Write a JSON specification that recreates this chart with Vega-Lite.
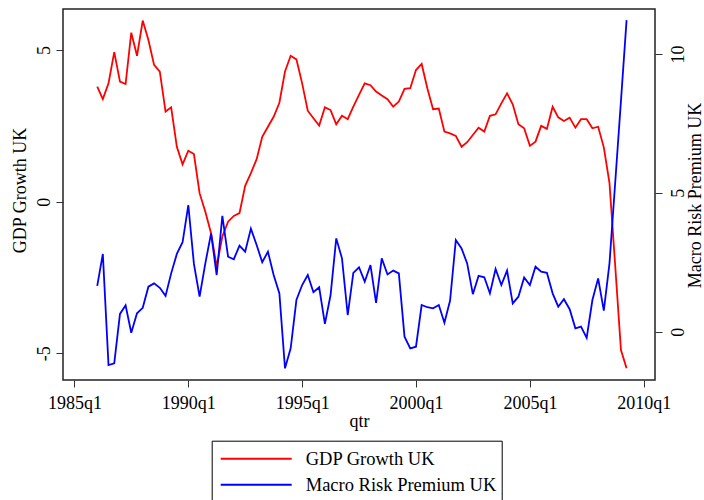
{
  "$schema": "https://vega.github.io/schema/vega-lite/v6.json",
  "width": 592,
  "height": 371,
  "autosize": {"type": "none"},
  "padding": {"left": 63, "top": 9, "right": 49, "bottom": 120},
  "background": "white",
  "data": {
    "values": [
      {"qtr": "1986-01-01", "gdp": 3.79, "mrp": 1.65},
      {"qtr": "1986-04-01", "gdp": 3.38, "mrp": 2.80},
      {"qtr": "1986-07-01", "gdp": 3.90, "mrp": -1.20},
      {"qtr": "1986-10-01", "gdp": 4.93, "mrp": -1.14},
      {"qtr": "1987-01-01", "gdp": 3.96, "mrp": 0.64},
      {"qtr": "1987-04-01", "gdp": 3.88, "mrp": 0.95},
      {"qtr": "1987-07-01", "gdp": 5.57, "mrp": -0.04},
      {"qtr": "1987-10-01", "gdp": 4.81, "mrp": 0.66},
      {"qtr": "1988-01-01", "gdp": 5.97, "mrp": 0.86},
      {"qtr": "1988-04-01", "gdp": 5.33, "mrp": 1.62},
      {"qtr": "1988-07-01", "gdp": 4.51, "mrp": 1.74},
      {"qtr": "1988-10-01", "gdp": 4.29, "mrp": 1.58},
      {"qtr": "1989-01-01", "gdp": 2.97, "mrp": 1.29},
      {"qtr": "1989-04-01", "gdp": 3.11, "mrp": 2.10},
      {"qtr": "1989-07-01", "gdp": 1.81, "mrp": 2.80},
      {"qtr": "1989-10-01", "gdp": 1.23, "mrp": 3.22},
      {"qtr": "1990-01-01", "gdp": 1.68, "mrp": 4.56},
      {"qtr": "1990-04-01", "gdp": 1.57, "mrp": 2.44},
      {"qtr": "1990-07-01", "gdp": 0.28, "mrp": 1.26},
      {"qtr": "1990-10-01", "gdp": -0.33, "mrp": 2.46},
      {"qtr": "1991-01-01", "gdp": -1.04, "mrp": 3.54},
      {"qtr": "1991-04-01", "gdp": -2.14, "mrp": 2.04},
      {"qtr": "1991-07-01", "gdp": -1.15, "mrp": 4.17},
      {"qtr": "1991-10-01", "gdp": -0.66, "mrp": 2.70},
      {"qtr": "1992-01-01", "gdp": -0.47, "mrp": 2.61},
      {"qtr": "1992-04-01", "gdp": -0.38, "mrp": 3.10},
      {"qtr": "1992-07-01", "gdp": 0.52, "mrp": 2.88},
      {"qtr": "1992-10-01", "gdp": 0.94, "mrp": 3.71},
      {"qtr": "1993-01-01", "gdp": 1.40, "mrp": 3.12},
      {"qtr": "1993-04-01", "gdp": 2.14, "mrp": 2.50},
      {"qtr": "1993-07-01", "gdp": 2.47, "mrp": 2.88},
      {"qtr": "1993-10-01", "gdp": 2.80, "mrp": 2.04},
      {"qtr": "1994-01-01", "gdp": 3.26, "mrp": 1.38},
      {"qtr": "1994-04-01", "gdp": 4.29, "mrp": -1.32},
      {"qtr": "1994-07-01", "gdp": 4.81, "mrp": -0.60},
      {"qtr": "1994-10-01", "gdp": 4.69, "mrp": 1.14},
      {"qtr": "1995-01-01", "gdp": 3.90, "mrp": 1.68},
      {"qtr": "1995-04-01", "gdp": 3.00, "mrp": 2.04},
      {"qtr": "1995-07-01", "gdp": 2.75, "mrp": 1.42},
      {"qtr": "1995-10-01", "gdp": 2.51, "mrp": 1.60},
      {"qtr": "1996-01-01", "gdp": 3.11, "mrp": 0.28},
      {"qtr": "1996-04-01", "gdp": 3.02, "mrp": 1.32},
      {"qtr": "1996-07-01", "gdp": 2.55, "mrp": 3.36},
      {"qtr": "1996-10-01", "gdp": 2.83, "mrp": 2.64},
      {"qtr": "1997-01-01", "gdp": 2.72, "mrp": 0.60},
      {"qtr": "1997-04-01", "gdp": 3.13, "mrp": 2.12},
      {"qtr": "1997-07-01", "gdp": 3.52, "mrp": 2.32},
      {"qtr": "1997-10-01", "gdp": 3.90, "mrp": 1.80},
      {"qtr": "1998-01-01", "gdp": 3.84, "mrp": 2.40},
      {"qtr": "1998-04-01", "gdp": 3.63, "mrp": 1.04},
      {"qtr": "1998-07-01", "gdp": 3.50, "mrp": 2.64},
      {"qtr": "1998-10-01", "gdp": 3.38, "mrp": 2.06},
      {"qtr": "1999-01-01", "gdp": 3.13, "mrp": 2.20},
      {"qtr": "1999-04-01", "gdp": 3.30, "mrp": 2.10},
      {"qtr": "1999-07-01", "gdp": 3.72, "mrp": -0.18},
      {"qtr": "1999-10-01", "gdp": 3.74, "mrp": -0.60},
      {"qtr": "2000-01-01", "gdp": 4.34, "mrp": -0.54},
      {"qtr": "2000-04-01", "gdp": 4.54, "mrp": 0.96},
      {"qtr": "2000-07-01", "gdp": 3.74, "mrp": 0.88},
      {"qtr": "2000-10-01", "gdp": 3.05, "mrp": 0.84},
      {"qtr": "2001-01-01", "gdp": 3.07, "mrp": 0.96},
      {"qtr": "2001-04-01", "gdp": 2.31, "mrp": 0.32},
      {"qtr": "2001-07-01", "gdp": 2.25, "mrp": 1.12},
      {"qtr": "2001-10-01", "gdp": 2.17, "mrp": 3.30},
      {"qtr": "2002-01-01", "gdp": 1.81, "mrp": 3.00},
      {"qtr": "2002-04-01", "gdp": 1.96, "mrp": 2.46},
      {"qtr": "2002-07-01", "gdp": 2.20, "mrp": 1.35},
      {"qtr": "2002-10-01", "gdp": 2.44, "mrp": 2.01},
      {"qtr": "2003-01-01", "gdp": 2.31, "mrp": 1.96},
      {"qtr": "2003-04-01", "gdp": 2.83, "mrp": 1.38},
      {"qtr": "2003-07-01", "gdp": 2.88, "mrp": 2.26},
      {"qtr": "2003-10-01", "gdp": 3.24, "mrp": 1.68},
      {"qtr": "2004-01-01", "gdp": 3.57, "mrp": 2.20},
      {"qtr": "2004-04-01", "gdp": 3.21, "mrp": 1.02},
      {"qtr": "2004-07-01", "gdp": 2.55, "mrp": 1.26},
      {"qtr": "2004-10-01", "gdp": 2.42, "mrp": 1.95},
      {"qtr": "2005-01-01", "gdp": 1.84, "mrp": 1.68},
      {"qtr": "2005-04-01", "gdp": 1.98, "mrp": 2.34},
      {"qtr": "2005-07-01", "gdp": 2.50, "mrp": 2.16},
      {"qtr": "2005-10-01", "gdp": 2.40, "mrp": 2.12},
      {"qtr": "2006-01-01", "gdp": 3.13, "mrp": 1.38},
      {"qtr": "2006-04-01", "gdp": 2.78, "mrp": 0.90},
      {"qtr": "2006-07-01", "gdp": 2.66, "mrp": 1.17},
      {"qtr": "2006-10-01", "gdp": 2.77, "mrp": 0.81},
      {"qtr": "2007-01-01", "gdp": 2.44, "mrp": 0.12},
      {"qtr": "2007-04-01", "gdp": 2.72, "mrp": 0.18},
      {"qtr": "2007-07-01", "gdp": 2.72, "mrp": -0.22},
      {"qtr": "2007-10-01", "gdp": 2.42, "mrp": 1.14},
      {"qtr": "2008-01-01", "gdp": 2.47, "mrp": 1.92},
      {"qtr": "2008-04-01", "gdp": 1.79, "mrp": 0.76},
      {"qtr": "2008-07-01", "gdp": 0.61, "mrp": 2.46},
      {"qtr": "2008-10-01", "gdp": -2.12, "mrp": 5.38},
      {"qtr": "2009-01-01", "gdp": -4.89, "mrp": 8.31},
      {"qtr": "2009-04-01", "gdp": -5.49, "mrp": 11.22}
    ]
  },
  "encoding": {
    "x": {
      "field": "qtr",
      "type": "temporal",
      "scale": {
        "type": "utc",
        "domain": [
          {"year": 1984, "month": 7, "date": 1, "utc": true},
          {"year": 2010, "month": 7, "date": 1, "utc": true}
        ]
      },
      "axis": {
        "title": "qtr",
        "values": [
          {"year": 1985, "month": 1, "date": 1, "utc": true},
          {"year": 1990, "month": 1, "date": 1, "utc": true},
          {"year": 1995, "month": 1, "date": 1, "utc": true},
          {"year": 2000, "month": 1, "date": 1, "utc": true},
          {"year": 2005, "month": 1, "date": 1, "utc": true},
          {"year": 2010, "month": 1, "date": 1, "utc": true}
        ],
        "labelExpr": "utcFormat(datum.value, '%Y') + 'q' + utcquarter(datum.value)",
        "labelBaseline": "top",
        "labelPadding": 7,
        "labelFlush": false,
        "labelOverlap": false,
        "titleY": 41.7,
        "titleBaseline": "middle"
      }
    }
  },
  "layer": [
    {
      "mark": {"type": "line", "strokeWidth": 1.8},
      "encoding": {
        "y": {
          "field": "gdp",
          "type": "quantitative",
          "scale": {"domain": [-5.88, 6.352], "nice": false, "zero": false},
          "axis": {
            "orient": "left",
            "title": "GDP Growth UK",
            "values": [-5, 0, 5],
            "labelExpr": "'' + datum.value",
            "labelAngle": -90,
            "labelAlign": "center",
            "labelBaseline": "bottom",
            "labelPadding": 3,
            "titleAngle": -90,
            "titleX": -43,
            "titleY": 181,
            "titleAlign": "center",
            "titleBaseline": "middle"
          }
        },
        "color": {
          "datum": "GDP Growth UK",
          "type": "nominal",
          "scale": {
            "domain": ["GDP Growth UK", "Macro Risk Premium UK"],
            "range": ["#ff0000", "#0000ff"]
          },
          "legend": {
            "title": null,
            "orient": "none",
            "legendX": 148.7,
            "legendY": 431.7,
            "direction": "vertical",
            "symbolType": "stroke",
            "symbolSize": 5041,
            "symbolStrokeWidth": 2,
            "strokeColor": "black",
            "padding": 5,
            "symbolOffset": 3,
            "labelOffset": 13,
            "clipHeight": 26,
            "rowPadding": 0,
            "labelFont": "Liberation Serif",
            "labelFontSize": 18.5,
            "labelColor": "black",
            "labelLimit": 400
          }
        }
      }
    },
    {
      "mark": {"type": "line", "strokeWidth": 1.8},
      "encoding": {
        "y": {
          "field": "mrp",
          "type": "quantitative",
          "scale": {"domain": [-1.74, 11.62], "nice": false, "zero": false},
          "axis": {
            "orient": "right",
            "title": "Macro Risk Premium UK",
            "values": [0, 5, 10],
            "labelExpr": "'' + datum.value",
            "labelAngle": -90,
            "labelAlign": "center",
            "labelBaseline": "top",
            "labelPadding": 7,
            "titleAngle": -90,
            "titleX": 40,
            "titleY": 186,
            "titleAlign": "center",
            "titleBaseline": "middle"
          }
        },
        "color": {"datum": "Macro Risk Premium UK", "type": "nominal"}
      }
    }
  ],
  "resolve": {"scale": {"y": "independent"}},
  "config": {
    "view": {"stroke": "#222222", "strokeWidth": 1.5},
    "axis": {
      "grid": false,
      "domain": false,
      "tickSize": 7,
      "tickColor": "#333333",
      "labelColor": "black",
      "titleColor": "black",
      "labelFont": "Liberation Serif",
      "titleFont": "Liberation Serif",
      "labelFontSize": 18,
      "titleFontSize": 18,
      "titleFontWeight": "normal"
    }
  }
}
